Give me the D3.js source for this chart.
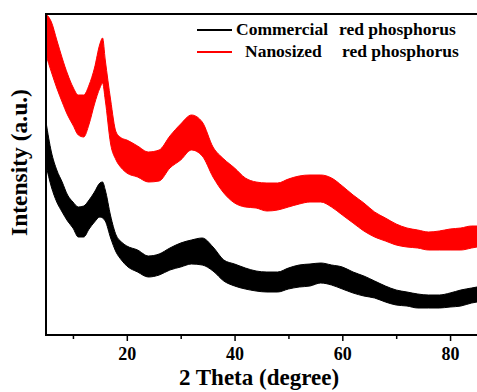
<!DOCTYPE html>
<html>
<head>
<meta charset="utf-8">
<script src="https://cdn.jsdelivr.net/npm/d3@7/dist/d3.min.js"></script>
<style>
  body { margin: 0; background: #fff; }
  svg { display: block; }
  text { font-family: "Liberation Serif", "Times New Roman", serif; font-weight: bold; }
</style>
</head>
<body>
<div id="chart"></div>
<script>
// 2 theta sample positions (degree)
const theta = [5, 6, 7, 8, 9, 10, 11, 12, 13, 14, 15, 15.5, 16, 17, 18, 19, 20, 22, 24, 26, 28, 30, 32, 34, 36, 38,
  40, 42, 44, 46, 48, 50, 52, 54, 56, 58, 60, 62, 64, 66, 68, 70, 72, 74, 76, 78, 80, 82, 84, 85];

// noise band: upper / lower edge of each trace (a.u.)
const nanoHigh = [321, 313, 295, 277, 261, 248, 240, 240, 250, 267, 291, 297, 275, 235, 203, 197, 195, 189, 183, 185, 199, 211, 220, 213, 188, 176,
  167, 157, 153, 152, 152, 156, 159, 160, 160, 157, 149, 140, 132, 123, 117, 111, 107, 105, 103, 104, 106, 107, 109, 109];
const nanoLow = [280, 263, 247, 233, 220, 210, 200, 198, 211, 231, 247, 252, 235, 191, 175, 167, 162, 158, 153, 154, 167, 175, 185, 179, 158, 142,
  132, 128, 127, 124, 125, 128, 131, 133, 133, 128, 120, 112, 104, 98, 94, 90, 88, 87, 85, 85, 85, 85, 87, 88];
const commHigh = [213, 183, 165, 153, 140, 133, 128, 129, 135, 143, 152, 153, 145, 119, 100, 93, 89, 85, 79, 81, 87, 92, 95, 97, 88, 75,
  71, 67, 64, 63, 63, 67, 70, 71, 72, 70, 68, 63, 59, 54, 49, 45, 43, 41, 40, 40, 42, 45, 47, 48];
const commLow = [170, 148, 133, 123, 114, 107, 98, 98, 106, 113, 118, 117, 114, 97, 83, 75, 69, 63, 58, 60, 65, 68, 71, 70, 64, 54,
  49, 46, 44, 43, 43, 46, 48, 49, 52, 50, 46, 42, 39, 37, 33, 30, 29, 27, 27, 27, 28, 29, 32, 33];

const majorTicks = [20, 40, 60, 80];
const minorTicks = [10, 30, 50, 70];

const seriesNames = ["Commercial", "Nanosized"];
const seriesColors = ["#000000", "#ff0000"];

const width = 477, height = 392;
const margin = { top: 14, right: 0, bottom: 57, left: 46 };

const svg = d3.select("#chart").append("svg")
  .attr("width", width)
  .attr("height", height);

const x = d3.scaleLinear().domain([5, 85]).range([margin.left, width]);
const y = d3.scaleLinear().domain([0, 321]).range([height - margin.bottom, margin.top]);

svg.append("clipPath").attr("id", "plot")
  .append("rect")
  .attr("x", margin.left).attr("y", margin.top)
  .attr("width", width - margin.left).attr("height", height - margin.bottom - margin.top);

const band = (hi, lo) => d3.area()
  .x((d, i) => x(theta[i]))
  .y0((d, i) => y(lo[i]))
  .y1((d, i) => y(hi[i]))
  .curve(d3.curveMonotoneX)(theta);

const traces = [
  { hi: commHigh, lo: commLow, color: seriesColors[0] },
  { hi: nanoHigh, lo: nanoLow, color: seriesColors[1] }
];

svg.append("g").attr("clip-path", "url(#plot)")
  .selectAll("path")
  .data(traces)
  .enter()
  .append("path")
  .attr("d", d => band(d.hi, d.lo))
  .attr("fill", d => d.color)
  .attr("stroke", d => d.color)
  .attr("stroke-width", 1);

// frame
const yb = height - margin.bottom;
svg.append("path")
  .attr("d", `M${width + 2},${margin.top}H${margin.left}V${yb}H${width + 2}`)
  .attr("fill", "none")
  .attr("stroke", "#000")
  .attr("stroke-width", 2);

// x axis ticks
svg.append("g").attr("transform", `translate(0,${yb})`)
  .call(d3.axisBottom(x).tickValues(majorTicks).tickSize(6).tickSizeOuter(0).tickFormat(d3.format("d")))
  .call(g => g.select(".domain").remove())
  .call(g => g.selectAll("line").attr("stroke-width", 1.5))
  .call(g => g.selectAll("text")
    .attr("font-family", "Liberation Serif").attr("font-weight", "bold")
    .attr("font-size", 18).attr("fill", "#000").attr("dy", null).attr("y", 24.5));

svg.append("g").attr("transform", `translate(0,${yb})`)
  .call(d3.axisBottom(x).tickValues(minorTicks).tickSize(4).tickFormat(""))
  .call(g => g.select(".domain").remove())
  .call(g => g.selectAll("line").attr("stroke-width", 1.5));

// axis titles
svg.append("text")
  .attr("x", 259).attr("y", 385)
  .attr("text-anchor", "middle")
  .attr("font-size", 23)
  .text("2 Theta (degree)");

svg.append("text")
  .attr("transform", "translate(27,162.5) rotate(-90)")
  .attr("text-anchor", "middle")
  .attr("font-size", 23.5)
  .text("Intensity (a.u.)");

// legend
const legend = svg.append("g");
const rows = legend.selectAll("g")
  .data(seriesNames)
  .enter()
  .append("g")
  .attr("transform", (d, i) => `translate(0,${30 + i * 22})`);

rows.append("line")
  .attr("x1", 197).attr("x2", 232)
  .attr("stroke", (d, i) => seriesColors[i])
  .attr("stroke-width", 2);

rows.append("text")
  .attr("x", (d, i) => i === 0 ? 236 : 245)
  .attr("y", 5)
  .attr("font-size", 17.5)
  .text(d => d);

rows.append("text")
  .attr("x", (d, i) => i === 0 ? 339 : 342)
  .attr("y", 5)
  .attr("font-size", 17.5)
  .text("red phosphorus");
</script>
</body>
</html>
